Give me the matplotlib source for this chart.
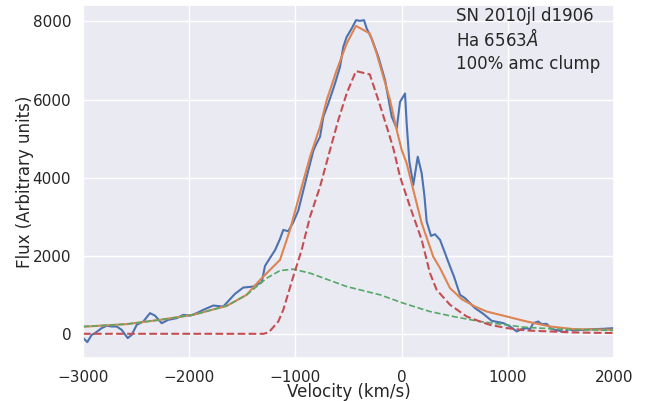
import matplotlib
matplotlib.use("Agg")
import matplotlib.pyplot as plt
import seaborn as sns

sns.set_theme(style="darkgrid", context="notebook")
plt.rcParams['font.family'] = ['DejaVu Sans']

# Observed spectrum (blue)
obs_v = [-2997, -2959, -2918, -2887, -2824, -2777, -2730, -2683, -2636, -2579,
         -2541, -2494, -2432, -2369, -2322, -2259, -2197, -2118, -2055, -1992,
         -1929, -1867, -1773, -1679, -1569, -1491, -1396, -1317, -1286, -1239,
         -1192, -1145, -1114, -1067, -1020, -973, -926, -879, -831, -806,
         -768, -737, -690, -627, -580, -549, -517, -470, -429, -392,
         -354, -329, -282, -219, -156, -93, -46, -15, 32, 48,
         73, 110, 152, 189, 214, 236, 277, 314, 362, 409,
         456, 493, 550, 597, 644, 691, 769, 848, 911, 958,
         1021, 1084, 1131, 1178, 1209, 1240, 1287, 1319, 1366, 1413,
         1476, 1539, 1570, 1617, 1711, 1805, 1900, 1994]
obs_f = [-110, -212, -26, 17, 146, 205, 187, 187, 102, -110,
         -26, 230, 315, 529, 465, 272, 358, 400, 486, 465,
         529, 614, 724, 698, 1023, 1184, 1210, 1322, 1739, 1944,
         2140, 2430, 2661, 2627, 2856, 3155, 3666, 4178, 4690, 4843,
         5047, 5558, 5899, 6411, 6837, 7348, 7604, 7819, 8032, 8014,
         8032, 7819, 7563, 7092, 6497, 5558, 5261, 5939, 6154, 5371,
         4406, 3811, 4536, 4109, 3555, 2873, 2507, 2550, 2405, 2064,
         1722, 1467, 998, 913, 785, 657, 512, 333, 299, 273,
         188, 60, 120, 145, 120, 273, 315, 247, 256, 120,
         85, 43, 120, 85, 102, 120, 128, 145]

# Total model (orange)
tot_v = [-3000, -2588, -2275, -1961, -1646, -1459, -1333, -1145, -1051, -957,
         -862, -768, -705, -611, -517, -430, -300, -235, -172, -109,
         -46, 1, 48, 110, 189, 298, 362, 456, 566, 691,
         801, 990, 1178, 1397, 1617, 2000]
tot_f = [180, 248, 358, 486, 716, 998, 1381, 1893, 2660, 3599,
         4535, 5303, 5986, 6753, 7436, 7886, 7692, 7180, 6582, 5986,
         5218, 4707, 4366, 3683, 2832, 1977, 1680, 1169, 888, 698,
         570, 443, 315, 188, 120, 102]

# Clump component (red dashed)
clump_v = [-3000, -1300, -1250, -1161, -1114, -1020, -941, -862, -768, -674,
           -596, -517, -430, -300, -219, -140, -78, -15, 79, 189,
           267, 330, 456, 613, 738, 832, 990, 1178, 1397, 1617, 2000]
clump_f = [0, 0, 40, 315, 614, 1466, 2149, 3001, 3768, 4707,
           5474, 6157, 6728, 6643, 5986, 5303, 4750, 4024, 3256, 2405,
           1553, 1126, 742, 443, 315, 230, 146, 85, 60, 35, 18]

# Other component (green dashed)
comp_v = [-3000, -2588, -2275, -1961, -1646, -1459, -1270, -1145, -1020, -862,
          -517, -203, 16, 267, 487, 738, 1146, 1460, 1775, 2000]
comp_f = [187, 248, 358, 486, 716, 998, 1425, 1619, 1655, 1553,
          1210, 998, 785, 570, 443, 315, 171, 120, 102, 85]

fig = plt.figure(figsize=(6.57, 4.01), dpi=100)
ax = fig.add_axes([0.1263, 0.1072, 0.8083, 0.8803])

pal = sns.color_palette("deep")
ax.plot(obs_v, obs_f, color=pal[0], lw=1.5)
ax.plot(tot_v, tot_f, color=pal[1], lw=1.5)
ax.plot(comp_v, comp_f, color=pal[2], lw=1.2, ls='--')
ax.plot(clump_v, clump_f, color=pal[3], lw=1.5, ls='--')

ax.set_xlim(-3000, 2000)
ax.set_ylim(-620, 8420)
ax.set_xticks([-3000, -2000, -1000, 0, 1000, 2000])
ax.set_yticks([0, 2000, 4000, 6000, 8000])
ax.tick_params(axis='both', labelsize=11, pad=2.5)
ax.set_xlabel("Velocity (km/s)", fontsize=12, labelpad=-1)
ax.set_ylabel("Flux (Arbitrary units)", fontsize=12, labelpad=-1)

ax.text(510, 8000, "SN 2010jl d1906", fontsize=12, va='baseline')
ax.text(510, 7380, r"Ha 6563$\AA$", fontsize=12, va='baseline')
ax.text(510, 6780, "100% amc clump", fontsize=12, va='baseline')

fig.savefig("out.png", dpi=100)
